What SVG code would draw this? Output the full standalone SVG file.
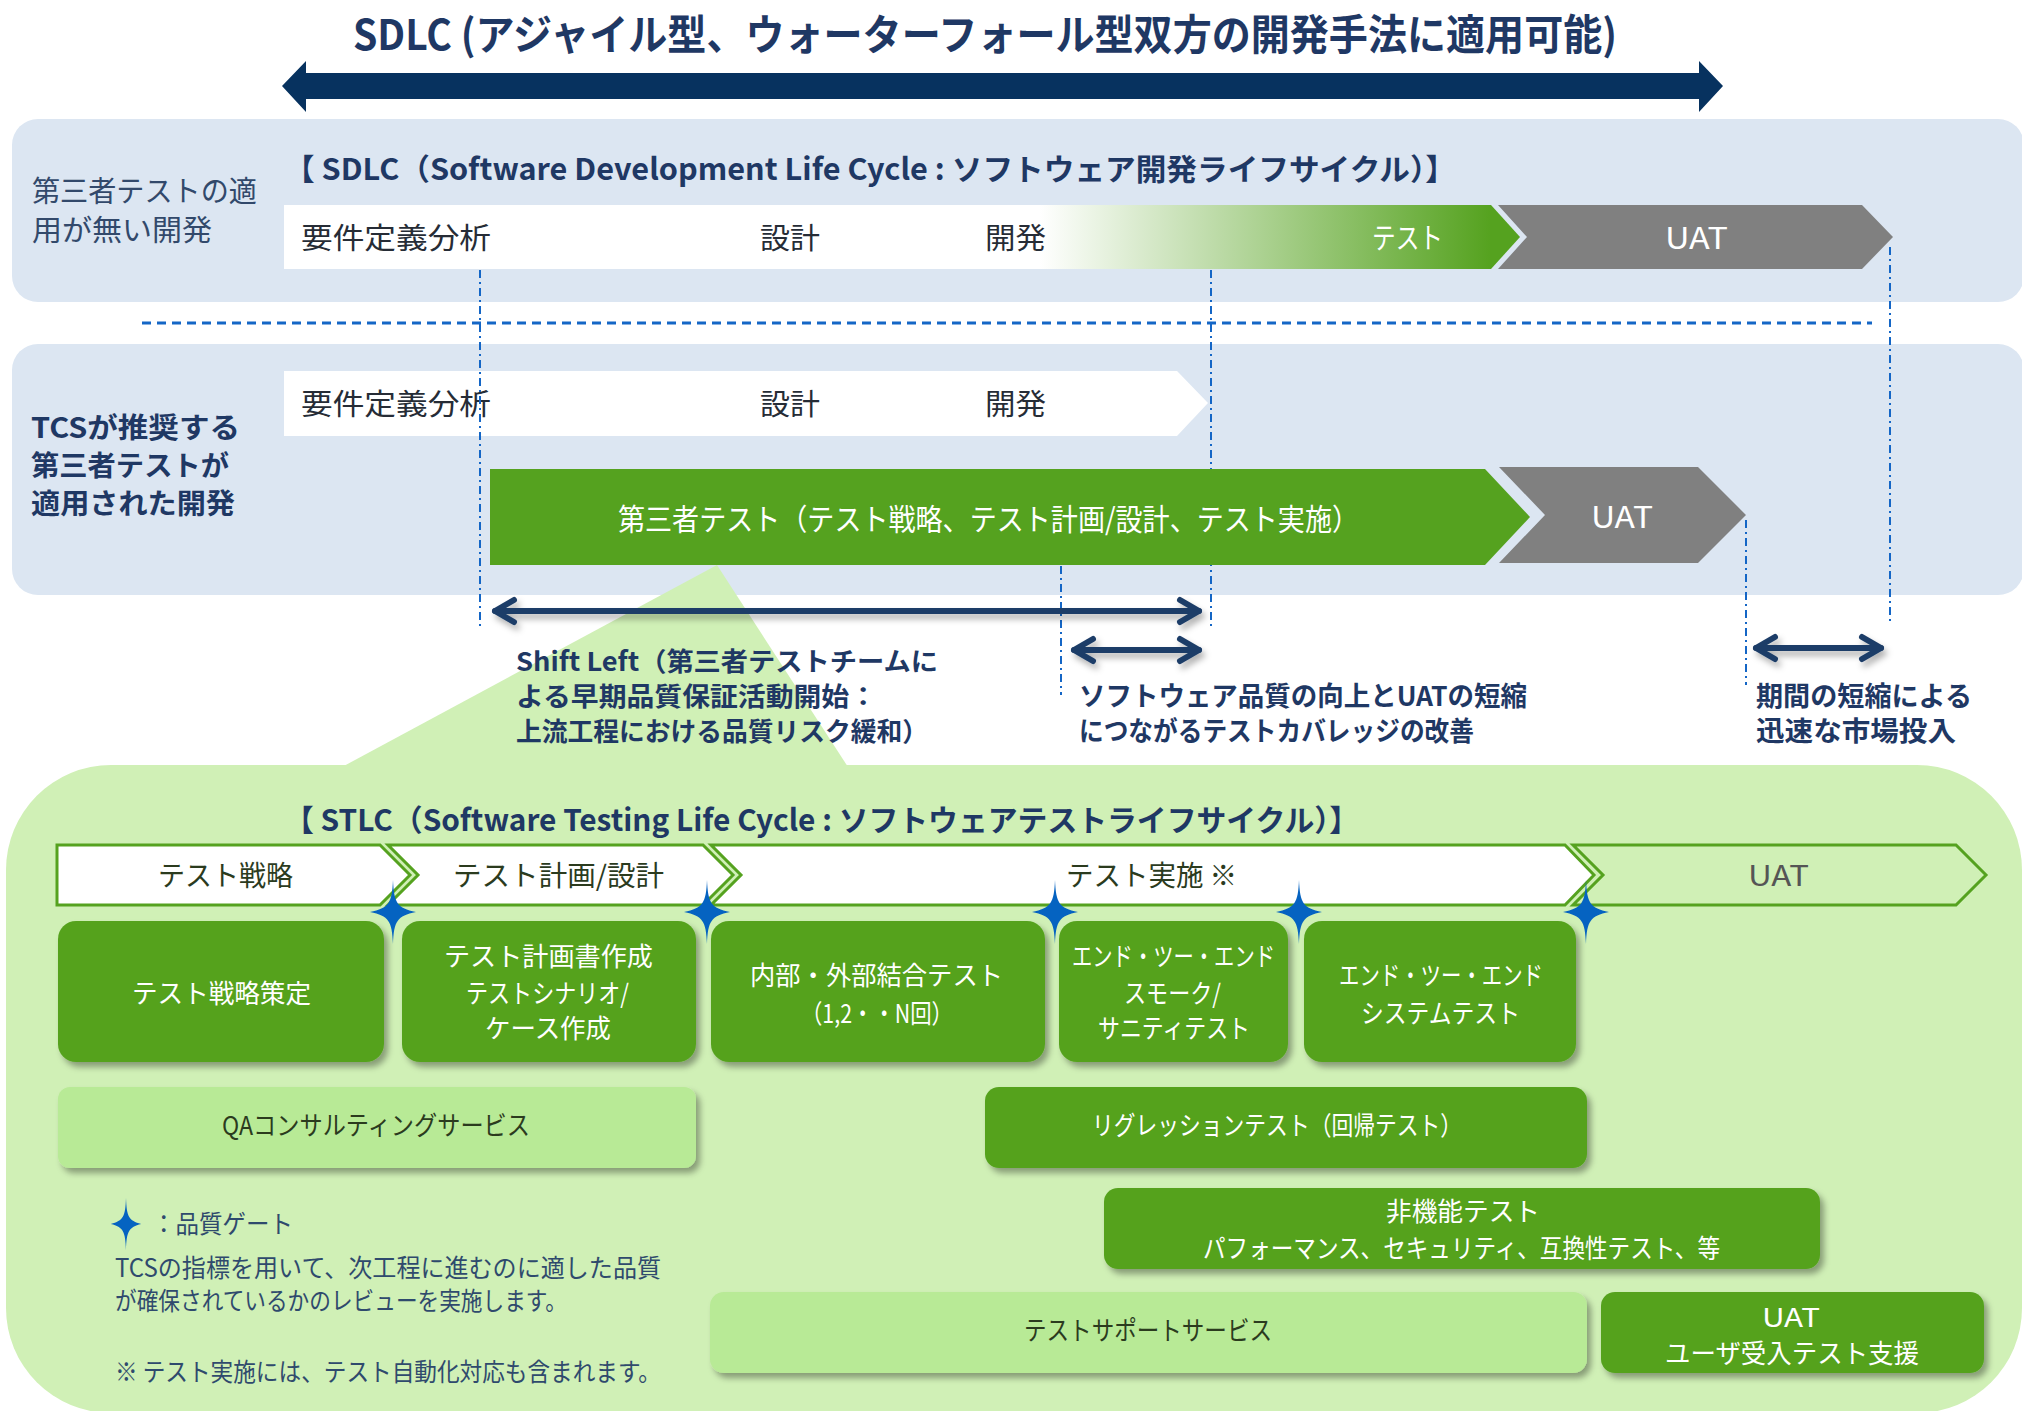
<svg xmlns="http://www.w3.org/2000/svg" width="2022" height="1411" viewBox="0 0 2022 1411">
<defs>
<style>
text{font-family:"Noto Sans CJK JP","Noto Sans",sans-serif;}
.b{font-weight:700}
.navy{fill:#1F3864}
.w{fill:#fff}
.dk{fill:#2B3B1E}
.gry{fill:#555555}
.lg{fill:#2F4A6D}
.row{fill:#262C36}
.panel{fill:#DCE6F2}
.box{fill:#55A21F;filter:url(#sh)}
.lbox{fill:#B8EA96;filter:url(#sh)}
.chev{stroke:#55A21F;stroke-width:3;stroke-linejoin:miter}
.guide{fill:none;stroke:#1466C6;stroke-width:2;stroke-dasharray:8 4 2 4}
.arr{fill:none;stroke:#1F3E68;stroke-width:6;stroke-linecap:round;marker-start:url(#ah);marker-end:url(#ah)}
</style>
<linearGradient id="g1" gradientUnits="userSpaceOnUse" x1="1040" y1="0" x2="1491" y2="0">
<stop offset="0" stop-color="#FFFFFF"/>
<stop offset="1" stop-color="#55A21F"/>
</linearGradient>
<filter id="sh" filterUnits="userSpaceOnUse" x="0" y="0" width="2022" height="1411">
<feDropShadow dx="4" dy="5" stdDeviation="3" flood-color="#000" flood-opacity="0.35"/>
</filter>
<filter id="ash" filterUnits="userSpaceOnUse" x="0" y="0" width="2022" height="1411">
<feDropShadow dx="3" dy="5" stdDeviation="3" flood-color="#000" flood-opacity="0.3"/>
</filter>
<marker id="ah" markerUnits="userSpaceOnUse" markerWidth="40" markerHeight="40" viewBox="-30 -20 40 40" refX="0" refY="0" orient="auto-start-reverse">
<path d="M-19,-11 L0,0 L-19,11" fill="none" stroke="#1F3E68" stroke-width="6" stroke-linecap="round" stroke-linejoin="round"/>
</marker>
<path id="star" d="M0,-32 C1,-9 4,-4 23,0 C4,4 1,9 0,32 C-1,9 -4,4 -23,0 C-4,-4 -1,-9 0,-32 Z" fill="#0563C1"/>
</defs>

<rect width="2022" height="1411" fill="#FFFFFF"/>

<g id="title">
<text x="353" y="50" font-size="42" textLength="1264" lengthAdjust="spacingAndGlyphs" class="b navy">SDLC (アジャイル型、ウォーターフォール型双方の開発手法に適用可能)</text>
<polygon points="282,86 306,61 306,73 1699,73 1699,61 1723,86 1699,112 1699,99 306,99 306,112" fill="#07325F"/>
</g>

<g id="panel-sdlc-none">
<rect class="panel" x="12" y="119" width="2012" height="183" rx="26"/>
<text x="32" y="202" font-size="29" textLength="225" lengthAdjust="spacingAndGlyphs" fill="#32496B">第三者テストの適</text>
<text x="32" y="241" font-size="29" textLength="180" lengthAdjust="spacingAndGlyphs" fill="#32496B">用が無い開発</text>
<text x="284" y="180" font-size="30" textLength="1172" lengthAdjust="spacingAndGlyphs" class="b navy">【 SDLC（Software Development Life Cycle : ソフトウェア開発ライフサイクル）】</text>
<polygon points="284,205 1491,205 1520,237 1491,269 284,269" fill="url(#g1)"/>
<polygon points="1498,205 1862,205 1893,237 1862,269 1498,269 1527,237" fill="#808080"/>
<text x="301" y="249" font-size="29" textLength="190" lengthAdjust="spacingAndGlyphs" class="row">要件定義分析</text>
<text x="760" y="249" font-size="29" textLength="60" lengthAdjust="spacingAndGlyphs" class="row">設計</text>
<text x="985" y="249" font-size="29" textLength="61" lengthAdjust="spacingAndGlyphs" class="row">開発</text>
<text x="1372" y="249" font-size="29" textLength="71" lengthAdjust="spacingAndGlyphs" class="w">テスト</text>
<text x="1665" y="249" font-size="30" textLength="63" lengthAdjust="spacingAndGlyphs" class="w">UAT</text>
</g>

<g id="panel-tcs">
<rect class="panel" x="12" y="344" width="2012" height="251" rx="26"/>
<text x="31" y="438" font-size="28" textLength="209" lengthAdjust="spacingAndGlyphs" class="b navy">TCSが推奨する</text>
<text x="31" y="476" font-size="28" textLength="198" lengthAdjust="spacingAndGlyphs" class="b navy">第三者テストが</text>
<text x="31" y="514" font-size="28" textLength="204" lengthAdjust="spacingAndGlyphs" class="b navy">適用された開発</text>
<polygon points="284,371 1177,371 1208,403 1177,436 284,436" fill="#FFFFFF"/>
<text x="301" y="415" font-size="29" textLength="190" lengthAdjust="spacingAndGlyphs" class="row">要件定義分析</text>
<text x="760" y="415" font-size="29" textLength="60" lengthAdjust="spacingAndGlyphs" class="row">設計</text>
<text x="985" y="415" font-size="29" textLength="61" lengthAdjust="spacingAndGlyphs" class="row">開発</text>
</g>

<g id="guides">
<line class="guide" x1="480" y1="270" x2="480" y2="630"/>
<line class="guide" x1="1211" y1="270" x2="1211" y2="630"/>
<line class="guide" x1="1890" y1="247" x2="1890" y2="625"/>
<line class="guide" x1="1061" y1="566" x2="1061" y2="695"/>
<line class="guide" x1="1746" y1="520" x2="1746" y2="685"/>
<line x1="142" y1="323" x2="1872" y2="323" fill="none" stroke="#1466C6" stroke-width="3" stroke-dasharray="9 6"/>
</g>

<g id="third-party-test">
<polygon points="490,469 1485,469 1530,517 1485,565 490,565" fill="#55A21F"/>
<text x="618" y="530" font-size="30" textLength="741" lengthAdjust="spacingAndGlyphs" class="w">第三者テスト（テスト戦略、テスト計画/設計、テスト実施）</text>
</g>
<g id="uat-tcs">
<polygon points="1499,467 1698,467 1746,515 1698,563 1499,563 1545,515" fill="#808080"/>
<text x="1591" y="528" font-size="30" textLength="62" lengthAdjust="spacingAndGlyphs" class="w">UAT</text>
</g>

<g id="stlc-panel">
<polygon points="717,565 342,767 848,767" fill="#D0F0B6"/>
<rect x="6" y="765" width="2016" height="648" rx="105" fill="#D0F0B6"/>
<text x="284" y="831" font-size="30" textLength="1075" lengthAdjust="spacingAndGlyphs" class="b navy">【 STLC（Software Testing Life Cycle : ソフトウェアテストライフサイクル）】</text>
</g>

<g id="connectors" filter="url(#ash)">
<line class="arr" x1="495" y1="611" x2="1199" y2="611"/>
<line class="arr" x1="1074" y1="650" x2="1199" y2="650"/>
<line class="arr" x1="1756" y1="648" x2="1881" y2="648"/>
</g>

<g id="labels">
<text x="516" y="671" font-size="26" textLength="422" lengthAdjust="spacingAndGlyphs" class="b navy">Shift Left（第三者テストチームに</text>
<text x="516" y="706" font-size="26" textLength="361" lengthAdjust="spacingAndGlyphs" class="b navy">よる早期品質保証活動開始：</text>
<text x="516" y="741" font-size="26" textLength="412" lengthAdjust="spacingAndGlyphs" class="b navy">上流工程における品質リスク緩和）</text>
<text x="1079" y="706" font-size="27" textLength="448" lengthAdjust="spacingAndGlyphs" class="b navy">ソフトウェア品質の向上とUATの短縮</text>
<text x="1079" y="741" font-size="27" textLength="395" lengthAdjust="spacingAndGlyphs" class="b navy">につながるテストカバレッジの改善</text>
<text x="1756" y="706" font-size="27" textLength="216" lengthAdjust="spacingAndGlyphs" class="b navy">期間の短縮による</text>
<text x="1756" y="741" font-size="27" textLength="200" lengthAdjust="spacingAndGlyphs" class="b navy">迅速な市場投入</text>
</g>

<g id="phase-strategy">
<polygon class="chev" points="57,845 380,845 410,875 380,905 57,905" fill="#FFFFFF"/>
<text x="158" y="886" font-size="28" textLength="135" lengthAdjust="spacingAndGlyphs" class="dk">テスト戦略</text>
</g>
<g id="phase-plan">
<polygon class="chev" points="388,845 703,845 733,875 703,905 388,905 418,875" fill="#FFFFFF"/>
<text x="453" y="886" font-size="28" textLength="211" lengthAdjust="spacingAndGlyphs" class="dk">テスト計画/設計</text>
</g>
<g id="phase-exec">
<polygon class="chev" points="711,845 1565,845 1594,875 1565,905 711,905 741,875" fill="#FFFFFF"/>
<text x="1066" y="886" font-size="28" textLength="171" lengthAdjust="spacingAndGlyphs" class="dk">テスト実施 ※</text>
</g>
<g id="phase-uat">
<polygon class="chev" points="1573,845 1956,845 1986,875 1956,905 1573,905 1603,875" fill="#D0F0B6"/>
<text x="1748" y="886" font-size="29" textLength="61" lengthAdjust="spacingAndGlyphs" class="gry">UAT</text>
</g>

<g id="box-strategy">
<rect class="box" x="58" y="921" width="326" height="141" rx="18"/>
<text x="132" y="1003" font-size="26" textLength="179" lengthAdjust="spacingAndGlyphs" class="w">テスト戦略策定</text>
</g>
<g id="box-plan">
<rect class="box" x="402" y="921" width="294" height="141" rx="18"/>
<text x="444" y="966" font-size="26" textLength="209" lengthAdjust="spacingAndGlyphs" class="w">テスト計画書作成</text>
<text x="466" y="1003" font-size="26" textLength="163" lengthAdjust="spacingAndGlyphs" class="w">テストシナリオ/</text>
<text x="485" y="1038" font-size="26" textLength="126" lengthAdjust="spacingAndGlyphs" class="w">ケース作成</text>
</g>
<g id="box-integration">
<rect class="box" x="711" y="921" width="334" height="141" rx="18"/>
<text x="750" y="985" font-size="26" textLength="253" lengthAdjust="spacingAndGlyphs" class="w">内部・外部結合テスト</text>
<text x="801" y="1023" font-size="26" textLength="152" lengthAdjust="spacingAndGlyphs" class="w">（1,2・・N回）</text>
</g>
<g id="box-smoke">
<rect class="box" x="1059" y="921" width="229" height="141" rx="18"/>
<text x="1072" y="966" font-size="26" textLength="203" lengthAdjust="spacingAndGlyphs" class="w">エンド・ツー・エンド</text>
<text x="1124" y="1003" font-size="26" textLength="97" lengthAdjust="spacingAndGlyphs" class="w">スモーク/</text>
<text x="1098" y="1038" font-size="26" textLength="152" lengthAdjust="spacingAndGlyphs" class="w">サニティテスト</text>
</g>
<g id="box-system">
<rect class="box" x="1304" y="921" width="272" height="141" rx="18"/>
<text x="1339" y="985" font-size="26" textLength="204" lengthAdjust="spacingAndGlyphs" class="w">エンド・ツー・エンド</text>
<text x="1361" y="1023" font-size="26" textLength="159" lengthAdjust="spacingAndGlyphs" class="w">システムテスト</text>
</g>
<g id="box-qa">
<rect class="lbox" x="58" y="1087" width="638" height="81" rx="12"/>
<text x="222" y="1135" font-size="26" textLength="308" lengthAdjust="spacingAndGlyphs" class="dk">QAコンサルティングサービス</text>
</g>
<g id="box-regression">
<rect class="box" x="985" y="1087" width="602" height="81" rx="14"/>
<text x="1092" y="1135" font-size="26" textLength="370" lengthAdjust="spacingAndGlyphs" class="w">リグレッションテスト（回帰テスト）</text>
</g>
<g id="box-nonfunctional">
<rect class="box" x="1104" y="1188" width="716" height="81" rx="14"/>
<text x="1386" y="1221" font-size="26" textLength="154" lengthAdjust="spacingAndGlyphs" class="w">非機能テスト</text>
<text x="1203" y="1258" font-size="26" textLength="517" lengthAdjust="spacingAndGlyphs" class="w">パフォーマンス、セキュリティ、互換性テスト、等</text>
</g>
<g id="box-support">
<rect class="lbox" x="710" y="1292" width="877" height="81" rx="14"/>
<text x="1024" y="1340" font-size="26" textLength="248" lengthAdjust="spacingAndGlyphs" class="dk">テストサポートサービス</text>
</g>
<g id="box-uat">
<rect class="box" x="1601" y="1292" width="383" height="81" rx="14"/>
<text x="1762" y="1327" font-size="26" textLength="58" lengthAdjust="spacingAndGlyphs" class="w">UAT</text>
<text x="1665" y="1363" font-size="26" textLength="254" lengthAdjust="spacingAndGlyphs" class="w">ユーザ受入テスト支援</text>
</g>

<g id="quality-gates">
<use href="#star" x="393" y="912"/>
<use href="#star" x="707" y="912"/>
<use href="#star" x="1055" y="912"/>
<use href="#star" x="1299" y="912"/>
<use href="#star" x="1586" y="912"/>
</g>

<g id="legend">
<use href="#star" transform="translate(126,1224) scale(0.66,0.81)"/>
<text x="152" y="1233" font-size="25" textLength="141" lengthAdjust="spacingAndGlyphs" class="lg">：品質ゲート</text>
<text x="115" y="1277" font-size="25" textLength="546" lengthAdjust="spacingAndGlyphs" class="lg">TCSの指標を用いて、次工程に進むのに適した品質</text>
<text x="115" y="1310" font-size="25" textLength="452" lengthAdjust="spacingAndGlyphs" class="lg">が確保されているかのレビューを実施します。</text>
<text x="115" y="1381" font-size="25" textLength="546" lengthAdjust="spacingAndGlyphs" class="lg">※ テスト実施には、テスト自動化対応も含まれます。</text>
</g>
</svg>
